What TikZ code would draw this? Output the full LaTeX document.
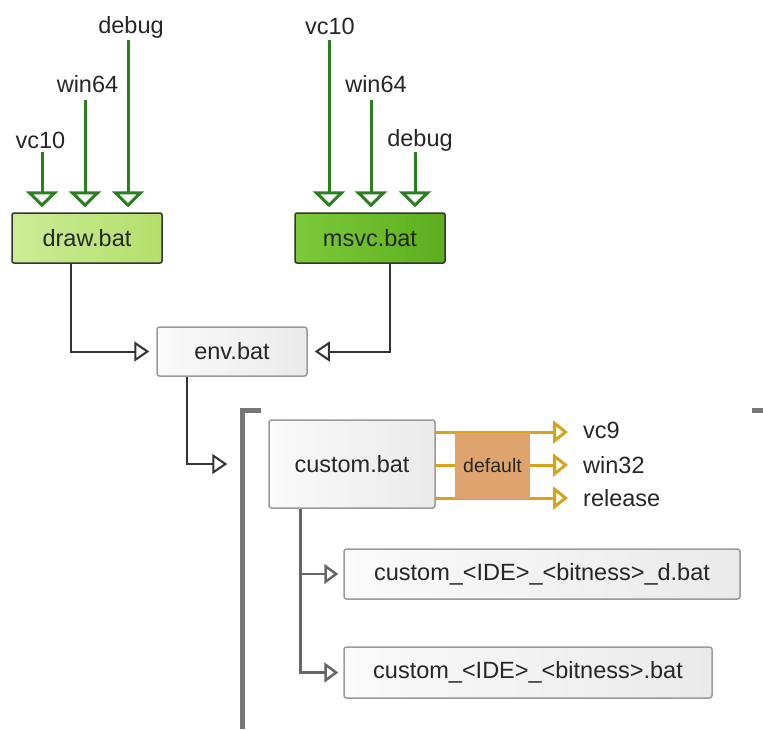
\documentclass[tikz,border=0pt]{standalone}
\usepackage{fontspec}
\setmainfont{Liberation Sans}
\usetikzlibrary{arrows.meta,calc}
\definecolor{txt}{HTML}{262626}
\definecolor{garrowc}{HTML}{2A7F1E}
\definecolor{oranc}{HTML}{D9A21B}
\definecolor{defc}{HTML}{DFA46E}
\definecolor{connc}{HTML}{333333}
\definecolor{connb}{HTML}{666666}
\definecolor{boxborder}{HTML}{9A9A9A}
\definecolor{boxL}{HTML}{FAFAFA}
\definecolor{boxR}{HTML}{EAEAEA}
\definecolor{drL}{HTML}{CCEC96}
\definecolor{drR}{HTML}{B3DF6C}
\definecolor{msL}{HTML}{7CCA3A}
\definecolor{msR}{HTML}{5CAE1E}
\definecolor{darkborder}{HTML}{333333}
\definecolor{bracketc}{HTML}{777777}
\tikzset{
  filebox/.style={draw=boxborder, line width=1.5pt, rounded corners=2.5pt, left color=boxL, right color=boxR, minimum height=50pt, inner sep=0pt, text=txt},
  greenbox/.style={draw=darkborder, line width=1.5pt, rounded corners=2pt, minimum width=150pt, minimum height=50pt, inner sep=0pt, text=txt},
  garrow/.style={draw=garrowc, line width=3pt, -{Triangle[open,length=16pt,width=32pt]}, shorten >=5pt},
  lbl/.style={anchor=base, inner sep=0pt, text=txt},
  rlbl/.style={anchor=base west, inner sep=0pt, text=txt},
  conn/.style={draw=connc, line width=2pt, -{Triangle[open,length=15pt,width=20pt]}},
  connlow/.style={draw=connb, line width=2.5pt, -{Triangle[open,length=14pt,width=20pt]}},
  oarrow/.style={draw=oranc, line width=3pt, -{Triangle[open,length=15pt,width=23pt]}},
  bracket/.style={draw=bracketc, line width=5pt},
}
\begin{document}
\begin{tikzpicture}[x=1pt,y=-1pt,font=\fontsize{23.5}{28}\selectfont]
\useasboundingbox (0,0) rectangle (763,729);

% top boxes
\node[greenbox, left color=drL, right color=drR] (draw) at (87,238) {draw.bat};
\node[greenbox, left color=msL, right color=msR] (msvc) at (370,238) {msvc.bat};
\node[filebox, minimum width=150pt, minimum height=49pt] (env) at (232,351.5) {env.bat};
\node[filebox, minimum width=166pt, minimum height=88pt] (custom) at (352,464) {custom.bat};
\node[filebox, minimum width=396pt] (cd) at (542,574) {custom\_<IDE>\_<bitness>\_d.bat};
\node[filebox, minimum width=368pt, minimum height=51pt] (cr) at (528,672.5) {custom\_<IDE>\_<bitness>.bat};

% draw.bat inputs
\coordinate (dv) at (42,152);
\coordinate (dw) at (85,100);
\coordinate (dd) at (128,40);
\node[lbl] (ldv) at (40.5,148) {vc10};
\node[lbl] (ldw) at (87.5,92) {win64};
\node[lbl] (ldd) at (131,33) {debug};
\draw[garrow] (dv) -- (dv |- draw.north);
\draw[garrow] (dw) -- (dw |- draw.north);
\draw[garrow] (dd) -- (dd |- draw.north);

% msvc.bat inputs
\coordinate (mv) at (329,40);
\coordinate (mw) at (371,100);
\coordinate (md) at (415,152);
\node[lbl] (lmv) at (330,34) {vc10};
\node[lbl] (lmw) at (376,92) {win64};
\node[lbl] (lmd) at (420,146) {debug};
\draw[garrow] (mv) -- (mv |- msvc.north);
\draw[garrow] (mw) -- (mw |- msvc.north);
\draw[garrow] (md) -- (md |- msvc.north);

% connectors
\draw[conn, shorten >=7pt] ([xshift=60pt]draw.south west) |- (env.west);
\draw[conn, shorten >=7pt] ([xshift=-56pt]msvc.south east) |- (env.east);
\draw[conn, shorten >=41pt] ([xshift=31pt]env.south west) |- (custom.west);

% bracket
\draw[bracket] (261,410) -- (242,410) -- (242,729);
\draw[bracket] (752,410) -- (763,410);

% custom branches
\draw[connlow, shorten >=5pt] ([xshift=32pt]custom.south west) |- (cd.west);
\draw[connlow, shorten >=5pt] ([xshift=32pt]custom.south west) |- (cr.west);

% defaults
\coordinate (o1) at (568,432);
\coordinate (o2) at (568,465);
\coordinate (o3) at (568,498);
\draw[oarrow] (custom.east |- o1) -- (o1);
\draw[oarrow] (custom.east |- o2) -- (o2);
\draw[oarrow] (custom.east |- o3) -- (o3);
\node[fill=defc, minimum width=75pt, minimum height=66pt, inner sep=0pt, text=txt, font=\fontsize{19.5}{22}\selectfont] (def) at (492.5,465.5) {default};
\node[rlbl] (lvc9) at (583,438) {vc9};
\node[rlbl] (lw32) at (583,473) {win32};
\node[rlbl] (lrel) at (583,506) {release};
\end{tikzpicture}
\end{document}
